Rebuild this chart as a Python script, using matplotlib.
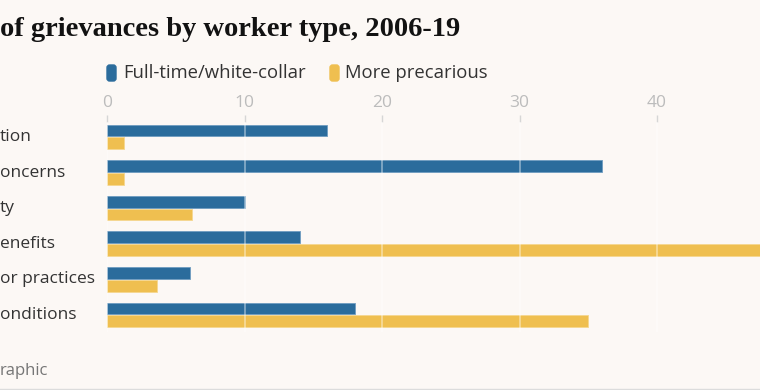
import numpy as np
import matplotlib
matplotlib.use("Agg")
import matplotlib.pyplot as plt
from matplotlib.patches import FancyBboxPatch
from matplotlib.transforms import blended_transform_factory

categories = ["tion", "oncerns", "ty", "enefits", "or practices", "onditions"]
full_time = [16, 36, 10, 14, 6, 18]
precarious = [1.2, 1.2, 6.2, 50, 3.6, 35]
ticks = [0, 10, 20, 30, 40]

bg = "#fcf8f5"
blue = "#2b6c9c"
yellow = "#efbf50"
W, H = 760, 390

fig = plt.figure(figsize=(7.6, 3.9), dpi=100, facecolor=bg)
# axes: x=0 at 107px, 13.75 px per unit, runs off the right edge
ax = fig.add_axes([107 / W, 1 - 332 / H, (W - 107) / W, (332 - 122) / H])
ax.set_facecolor(bg)

y = np.arange(len(categories))
ax.barh(y - 0.18, full_time, height=0.33, color=blue, edgecolor="#6f9cc0", linewidth=0.6, zorder=2)
ax.barh(y + 0.18, precarious, height=0.33, color=yellow, edgecolor="#f5d78f", linewidth=0.6, zorder=2)

ax.set_xlim(0, (W - 107) / 13.75)
ax.set_ylim(5.48, -0.42)

ax.xaxis.tick_top()
ax.set_xticks(ticks)
ax.set_xticklabels([str(t) for t in ticks], fontsize=12.5, color="#bcbcbc", family="Open Sans")
ax.tick_params(axis="x", length=5, width=1, color="#d6d6d6", pad=3)
ax.set_yticks([])
for s in ax.spines.values():
    s.set_visible(False)
for t in ticks:
    ax.axvline(t, color="white", alpha=0.45, lw=1.2, zorder=3)

# category labels, cut off by the left edge like the reference
tr = blended_transform_factory(fig.transFigure, ax.transData)
for yi, lab in zip(y, categories):
    fig.text(0.0, yi, lab, transform=tr, ha="left", va="center",
             fontsize=12.5, color="#333333", family="Open Sans")

# title
fig.text(0.0, 1 - 29 / H, "of grievances by worker type, 2006-19", ha="left", va="center",
         fontsize=20.5, fontweight="bold", family="Liberation Serif", color="#121212")

# legend
for x0, tx, col, lab in [(107, 123, blue, "Full-time/white-collar"), (330, 345, yellow, "More precarious")]:
    fig.patches.append(FancyBboxPatch((x0 / W, 1 - 81 / H), 9 / W, 16 / H,
                                      boxstyle="round,pad=0,rounding_size=0.0035",
                                      mutation_aspect=W / H,
                                      transform=fig.transFigure, color=col))
    fig.text(tx / W, 1 - 73 / H, lab, ha="left", va="center",
             fontsize=13.3, color="#333333", family="Open Sans")

fig.text(0.0, 1 - 371 / H, "raphic", ha="left", va="center",
         fontsize=12, color="#767676", family="Open Sans")
fig.add_artist(plt.Line2D([0, 1], [1 / H, 1 / H], transform=fig.transFigure, color="#dcdcdc", lw=1))

fig.savefig("out.png", dpi=100, facecolor=bg)
